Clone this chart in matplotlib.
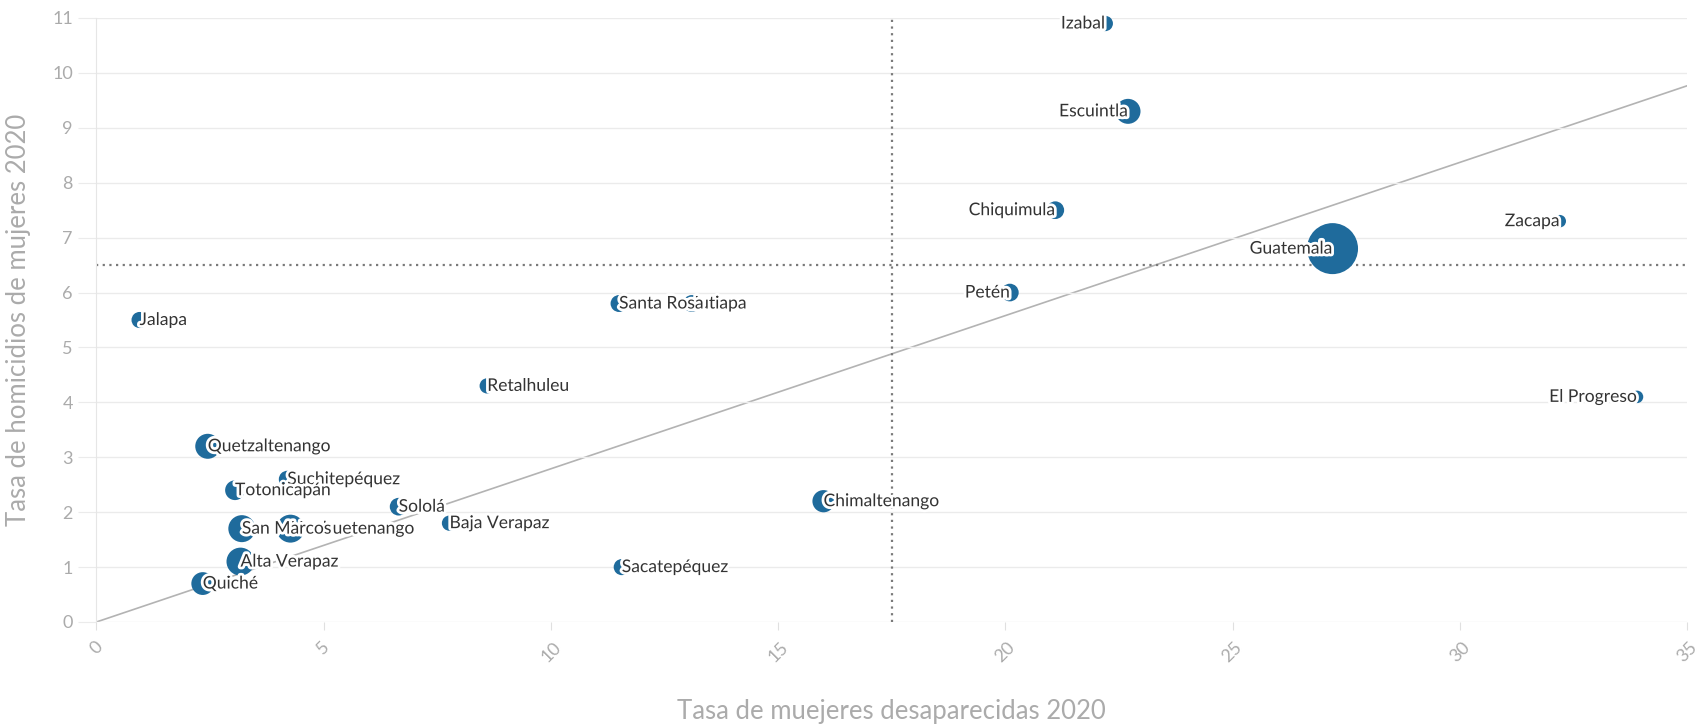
import matplotlib.pyplot as plt
import matplotlib.patheffects as pe

# Datos por departamento (tasas 2020)
departamentos = [
    "Izabal", "Escuintla", "Chiquimula", "Zacapa", "Guatemala", "Petén",
    "Jutiapa", "Santa Rosa", "Jalapa", "Retalhuleu", "El Progreso",
    "Quetzaltenango", "Suchitepéquez", "Totonicapán", "Sololá",
    "Chimaltenango", "Huehuetenango", "San Marcos", "Baja Verapaz",
    "Alta Verapaz", "Sacatepéquez", "Quiché",
]
desaparecidas = [22.2, 22.7, 21.1, 32.2, 27.2, 20.1,
                 13.1, 11.5, 0.95, 8.6, 33.9,
                 2.45, 4.2, 3.05, 6.65,
                 16.0, 4.27, 3.2, 7.77,
                 3.17, 11.56, 2.34]
homicidios = [10.9, 9.3, 7.5, 7.3, 6.8, 6.0,
              5.8, 5.8, 5.5, 4.3, 4.1,
              3.2, 2.6, 2.4, 2.1,
              2.2, 1.7, 1.7, 1.8,
              1.1, 1.0, 0.7]
# tamaño relativo de la burbuja (Guatemala = 100)
peso = [9, 24, 12, 6, 100, 12,
        11, 11, 10, 9, 6,
        24, 11, 15, 12,
        19, 30, 28, 9,
        30, 10, 20]

media_x = 17.5
media_y = 6.5
pendiente = 0.279

azul = "#1f6b9c"
gris_txt = "#ababab"

plt.rcParams['font.family'] = ['Lato', 'DejaVu Sans']

fig = plt.figure(figsize=(16.99, 7.26), dpi=100)
ax = fig.add_axes([96.4 / 1699, 1 - 622 / 726, 1590.6 / 1699, 604 / 726])

ax.set_xlim(0, 35)
ax.set_ylim(0, 11)

# cuadrícula
ax.set_yticks(range(0, 12))
ax.set_xticks(range(0, 36, 5))
ax.grid(axis='y', color='#ebebeb', lw=1, zorder=0)
for s in ['top', 'right', 'bottom']:
    ax.spines[s].set_visible(False)
ax.spines['left'].set_color('#e6e6e6')
ax.tick_params(axis='y', length=13, color='#ebebeb', labelcolor=gris_txt,
               labelsize=13, pad=4)
ax.tick_params(axis='x', length=6, color='#e0e0e0', labelcolor=gris_txt,
               labelsize=13, pad=6)
for lbl in ax.get_xticklabels():
    lbl.set_rotation(45)
    lbl.set_ha('center')
    lbl.set_va('top')

# líneas de referencia
ax.plot([0, 35], [0, 35 * pendiente], color='#b3b3b3', lw=1.2, zorder=1)
ax.axhline(media_y, color='#7a7a7a', lw=1.6, ls=(0, (1, 2)), zorder=2)
ax.axvline(media_x, color='#7a7a7a', lw=1.6, ls=(0, (1, 2)), zorder=2)

# burbujas
tam = [(p / 100) ** 0.5 * 51 * 0.72 for p in peso]
ax.scatter(desaparecidas, homicidios, s=[t ** 2 for t in tam], color=azul,
           edgecolors='none', zorder=3, clip_on=False)

halo = [pe.withStroke(linewidth=4, foreground='white')]
for i, nombre in enumerate(departamentos):
    x, y = desaparecidas[i], homicidios[i]
    ha = 'left' if x < media_x else 'right'
    ax.text(x, y, nombre, ha=ha, va='center', fontsize=12.6, color='#333333',
            path_effects=halo, zorder=4 + i * 0.01)

ax.set_xlabel("Tasa de muejeres desaparecidas 2020", fontsize=18.5, color=gris_txt)
ax.set_ylabel("Tasa de homicidios de mujeres 2020", fontsize=18.5, color=gris_txt)
ax.xaxis.set_label_coords(0.5, -0.128)
ax.yaxis.set_label_coords(-0.041, 0.5)

fig.savefig("out.png", dpi=100, facecolor='white')
